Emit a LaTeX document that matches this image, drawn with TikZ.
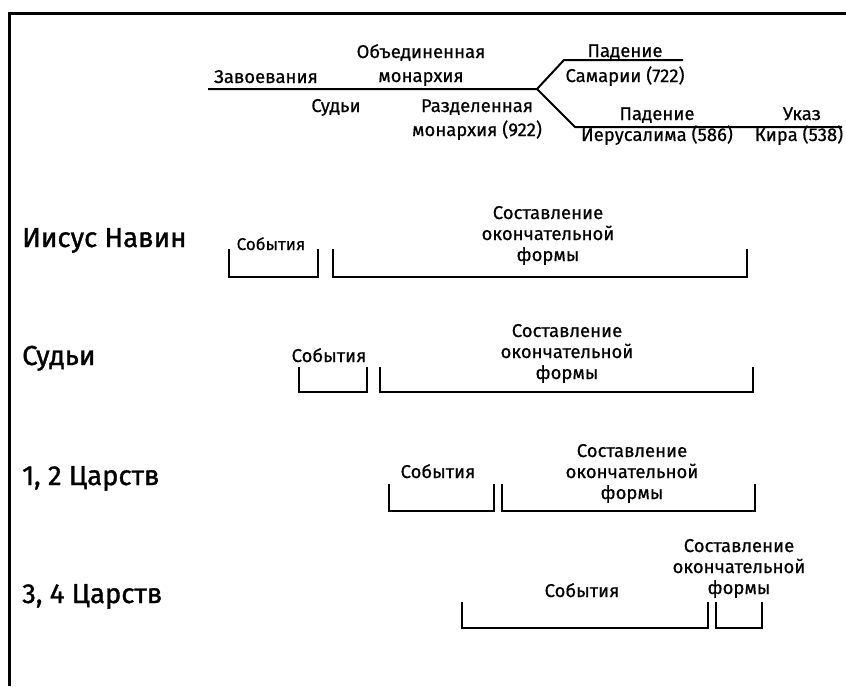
\documentclass[tikz,border=0pt]{standalone}
\usepackage{fontspec}
\setmainfont{Fira Sans}
\newfontfamily\smallfnt[FakeBold=0.6]{Fira Sans}
\newfontfamily\rowfnt[FakeBold=1.2]{Fira Sans}
\begin{document}
\begin{tikzpicture}[x=1pt,y=-1pt,
  lbl/.style={font=\smallfnt\fontsize{18.5}{21}\selectfont, inner sep=0pt, align=center, anchor=base},
  toplbl/.style={font=\smallfnt\fontsize{18.5}{24}\selectfont, inner sep=0pt, align=center, anchor=base},
  rowlbl/.style={font=\rowfnt\fontsize{27.5}{30}\selectfont, inner sep=0pt, anchor=base west},
  tline/.style={line width=2pt},
  brk/.style={line width=2pt, line join=miter},
  frame/.style={line width=3pt}
]
\useasboundingbox (0,0) rectangle (846,686);
% frame (top and left)
\coordinate (f0) at (9,686);
\coordinate (f1) at (9,13);
\coordinate (f2) at (846,13);
\draw[frame] (f0) -- (f1) -- (f2);

% timeline
\coordinate (t0) at (208,89);
\coordinate (tj) at (537,89);
\coordinate (tu1) at (564,60);
\coordinate (tu2) at (683,60);
\coordinate (td1) at (575,127);
\coordinate (td2) at (842,127);
\draw[tline] (t0) -- (tj) -- (tu1) -- (tu2);
\draw[tline] (tj) -- (td1) -- (td2);

\node[toplbl] (zav) at (266,83) {Завоевания};
\node[toplbl] (obm) at (421,82) {Объединенная\\монархия};
\node[toplbl] (sud) at (336,112) {Судьи};
\node[toplbl] (razm) at (477,136) {Разделенная\\монархия (922)};
\node[toplbl] (pad1) at (625,57) {Падение};
\node[toplbl] (sam) at (625,82) {Самарии (722)};
\node[toplbl] (pad2) at (657,120) {Падение};
\node[toplbl] (ier) at (657,141) {Иерусалима (586)};
\node[toplbl] (ukaz) at (802,120) {Указ};
\node[toplbl] (kir) at (799,141) {Кира (538)};

% row labels
\node[rowlbl] (r1) at (22,247) {Иисус Навин};
\node[rowlbl] (r2) at (22,365) {Судьи};
\node[rowlbl] (r3) at (22,485) {1, 2 Царств};
\node[rowlbl] (r4) at (22,603) {3, 4 Царств};

% row 1
\draw[brk] (229,249) |- (318,277) -- (318,249);
\draw[brk] (333,249) |- (747,277) -- (747,249);
\node[lbl, font=\smallfnt\fontsize{17}{21}\selectfont] (e1) at (271,250) {События};
\node[lbl] (c1) at (548,261) {Составление\\окончательной\\формы};

% row 2
\draw[brk] (299,367) |- (367,392) -- (367,367);
\draw[brk] (380,367) |- (753,392) -- (753,367);
\node[lbl] (e2) at (329,362) {События};
\node[lbl] (c2) at (567,379) {Составление\\окончательной\\формы};

% row 3
\draw[brk] (389,484) |- (494,511) -- (494,484);
\draw[brk] (502,484) |- (755,511) -- (755,484);
\node[lbl] (e3) at (438,478) {События};
\node[lbl] (c3) at (632,499) {Составление\\окончательной\\формы};

% row 4
\draw[brk] (462,602) |- (708,628) -- (708,602);
\draw[brk] (716,602) |- (762,628) -- (762,602);
\node[lbl] (e4) at (582,597) {События};
\node[lbl] (c4) at (739,594) {Составление\\окончательной\\формы};
\end{tikzpicture}
\end{document}
